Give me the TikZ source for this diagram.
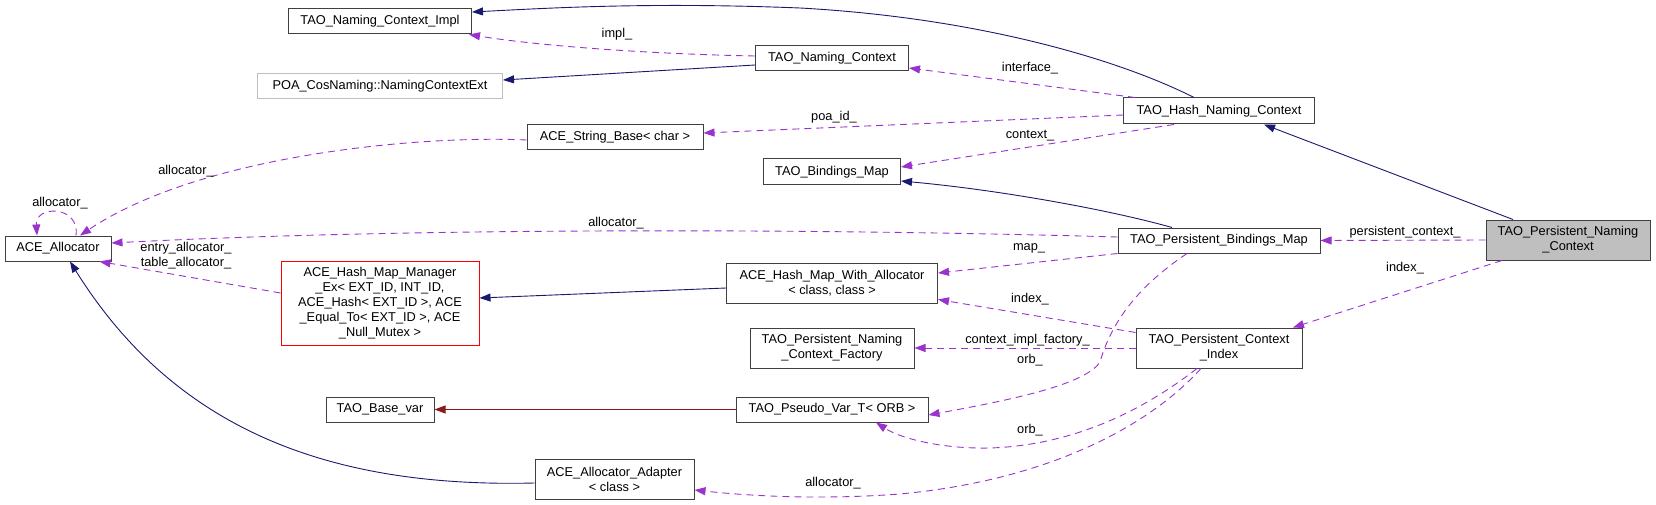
\documentclass[tikz,border=0pt]{standalone}
\usepackage{fontspec}
\setmainfont{Liberation Sans}
\usetikzlibrary{arrows.meta}
\definecolor{navyc}{HTML}{191970}
\definecolor{relc}{HTML}{9A32CD}
\definecolor{tplc}{HTML}{8B1A1A}
\definecolor{boxgray}{HTML}{BFBFBF}
\definecolor{boxborder}{HTML}{404040}
\definecolor{redborder}{HTML}{FF0000}
\begin{document}
\begin{tikzpicture}[x=1pt,y=-1pt,
  font=\fontsize{12.8}{15}\selectfont,
  cls/.style={draw=boxborder, line width=1pt, fill=white, inner sep=0pt, align=center, anchor=center},
  ext/.style={cls, draw=boxgray},
  redbox/.style={cls, draw=redborder},
  cur/.style={cls, fill=boxgray},
  lbl/.style={inner sep=0pt, anchor=center, align=center},
  inh/.style={draw=navyc, line width=0.9pt, -{Triangle[length=11pt,width=8pt]}},
  tpl/.style={draw=tplc, line width=0.9pt, -{Triangle[length=11pt,width=8pt]}},
  rel/.style={draw=relc, line width=0.9pt, dash pattern=on 7pt off 5pt, -{Triangle[length=11pt,width=8pt]}},
]
\useasboundingbox (0,0) rectangle (1656,505);

% nodes
\node[cls, minimum width=183pt, minimum height=25pt] (impl) at (380,21.5) {TAO\_Naming\_Context\_Impl};
\node[ext, minimum width=245pt, minimum height=25pt] (poa) at (380,86.5) {POA\_CosNaming::NamingContextExt};
\node[cls, minimum width=153pt, minimum height=25pt] (nc) at (832,58.5) {TAO\_Naming\_Context};
\node[cls, minimum width=176pt, minimum height=25pt] (sb) at (615,137.5) {ACE\_String\_Base< char >};
\node[cls, minimum width=137pt, minimum height=26pt] (bm) at (832,172) {TAO\_Bindings\_Map};
\node[cls, minimum width=191pt, minimum height=26pt] (hnc) at (1219,111) {TAO\_Hash\_Naming\_Context};
\node[cls, minimum width=106pt, minimum height=25pt] (alloc) at (58,248.5) {ACE\_Allocator};
\node[cls, minimum width=202pt, minimum height=25pt] (pbm) at (1219,240.5) {TAO\_Persistent\_Bindings\_Map};
\node[cur, minimum width=164pt, minimum height=40pt] (pnc) at (1568,240) {TAO\_Persistent\_Naming\\\_Context};
\node[redbox, minimum width=198pt, minimum height=84pt] (hmm) at (380,303) {ACE\_Hash\_Map\_Manager\\\_Ex< EXT\_ID, INT\_ID,\\ ACE\_Hash< EXT\_ID >, ACE\\\_Equal\_To< EXT\_ID >, ACE\\\_Null\_Mutex >};
\node[cls, minimum width=211pt, minimum height=40pt] (hmwa) at (832,283) {ACE\_Hash\_Map\_With\_Allocator\\< class, class >};
\node[cls, minimum width=164pt, minimum height=40pt] (fac) at (832,348) {TAO\_Persistent\_Naming\\\_Context\_Factory};
\node[cls, minimum width=166pt, minimum height=40pt] (pci) at (1219,348) {TAO\_Persistent\_Context\\\_Index};
\node[cls, minimum width=108pt, minimum height=25pt] (base) at (380,409.5) {TAO\_Base\_var};
\node[cls, minimum width=192pt, minimum height=25pt] (pvt) at (832,409.5) {TAO\_Pseudo\_Var\_T< ORB >};
\node[cls, minimum width=159pt, minimum height=40pt] (adapter) at (614.5,479) {ACE\_Allocator\_Adapter\\< class >};

% inheritance edges
\draw[inh] ([xshift=-25pt]hnc.north) .. controls (1120,60) and (980,18) .. (800,8) .. controls (650,2) and (550,8) .. ([yshift=9.5pt]impl.east);
\draw[inh] ([yshift=-6.5pt]nc.west) -- ([yshift=6.5pt]poa.east);
\draw[inh] ([xshift=-55pt]pnc.north) -- ([xshift=45pt]hnc.south);
\draw[inh] ([xshift=-47pt]pbm.north) .. controls (1110,210) and (1000,190) .. ([yshift=-9pt]bm.east);
\draw[inh] ([yshift=-5pt]hmwa.west) -- ([yshift=5pt]hmm.east);
\draw[tpl] (pvt.west) -- (base.east);
\draw[inh] ([yshift=-4pt]adapter.west) .. controls (330,488) and (175,430) .. ([xshift=12pt]alloc.south);

% usage edges
\draw[rel] ([yshift=2.5pt]nc.west) .. controls (650,54) and (540,46) .. ([xshift=-3pt]impl.south east);
\draw[rel] ([xshift=12pt]hnc.north west) -- ([yshift=-9.5pt]nc.east);
\draw[rel] ([yshift=-4pt]hnc.west) -- ([yshift=4.5pt]sb.east);
\draw[rel] ([xshift=-45pt]hnc.south) -- ([yshift=5pt]bm.east);
\draw[rel] (pnc.west) -- (pbm.east);
\draw[rel] ([xshift=-66pt]pnc.south) -- ([xshift=74pt]pci.north);
\draw[rel] ([yshift=3.5pt]pbm.west) .. controls (800,228) and (400,228) .. ([yshift=5.5pt]alloc.east);
\draw[rel] (pbm.south west) -- ([yshift=10pt]hmwa.east);
\draw[rel] ([xshift=-32pt]pbm.south) .. controls (1140,285) and (1112,320) .. (1100,362) .. controls (1085,385) and (1010,400) .. ([yshift=-5.5pt]pvt.east);
\draw[rel] ([yshift=-5pt]pci.north west) -- ([yshift=4pt]hmwa.south east);
\draw[rel] (pci.west) -- (fac.east);
\draw[rel] ([xshift=-22pt]pci.south) .. controls (1150,405) and (1080,445) .. (990,448) .. controls (940,449) and (900,438) .. ([xshift=44pt]pvt.south);
\draw[rel] ([xshift=-18pt]pci.south) .. controls (1150,425) and (1050,480) .. (900,494) .. controls (820,500) and (750,496) .. ([yshift=-11pt]adapter.east);
\draw[rel] ([yshift=10pt]hmm.west) -- ([xshift=-12pt]alloc.south east);
\draw[rel] ([yshift=-2.5pt]sb.west) .. controls (420,135) and (200,155) .. ([xshift=22pt]alloc.north);
\draw[rel] ([xshift=18pt]alloc.north) .. controls (80,205) and (35,205) .. ([xshift=-21pt]alloc.north);

% labels
\node[lbl] (l1) at (617,34) {impl\_};
\node[lbl] (l2) at (1030,68) {interface\_};
\node[lbl] (l3) at (834,117) {poa\_id\_};
\node[lbl] (l4) at (1030,136) {context\_};
\node[lbl] (l5) at (1405,232) {persistent\_context\_};
\node[lbl] (l6) at (1405,268) {index\_};
\node[lbl] (l7) at (616,223) {allocator\_};
\node[lbl] (l8) at (1029,248) {map\_};
\node[lbl] (l9) at (1030,360) {orb\_};
\node[lbl] (l10) at (1030,299) {index\_};
\node[lbl] (l11) at (1027.5,340) {context\_impl\_factory\_};
\node[lbl] (l12) at (1030,430) {orb\_};
\node[lbl] (l13) at (833,483) {allocator\_};
\node[lbl] (l14) at (186,255.5) {entry\_allocator\_\\table\_allocator\_};
\node[lbl] (l15) at (186,171) {allocator\_};
\node[lbl] (l16) at (60,203) {allocator\_};
\end{tikzpicture}
\end{document}
